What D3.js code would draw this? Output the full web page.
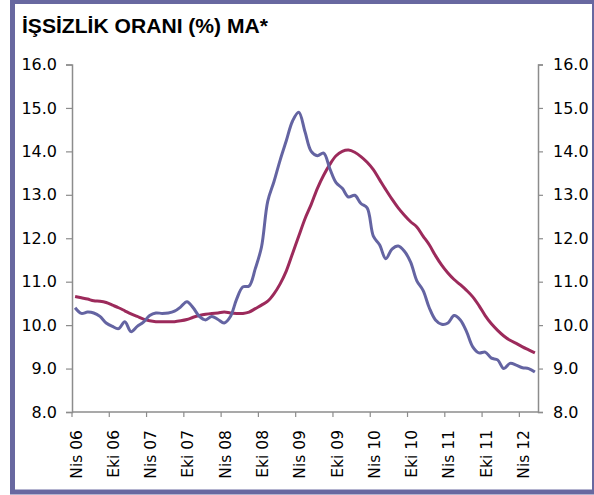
<!DOCTYPE html>
<html>
<head>
<meta charset="utf-8">
<script src="https://cdn.jsdelivr.net/npm/d3@7"></script>
<style>
  body { margin: 0; background: #fff; }
  svg { display: block; }
</style>
</head>
<body>
<svg id="chart" width="594" height="495"></svg>
<script>
const title = "İŞSİZLİK ORANI (%) MA*";
const monthNames = ["Oca","Şub","Mar","Nis","May","Haz","Tem","Ağu","Eyl","Eki","Kas","Ara"];
// Monthly categories from Nis 06 to Haz 12
const categories = [];
for (let i = 0; i < 75; i++) {
  const m = (3 + i) % 12, yr = 6 + Math.floor((3 + i) / 12);
  categories.push(monthNames[m] + " " + String(yr).padStart(2, "0"));
}
const tickLabels = ["Nis 06","Eki 06","Nis 07","Eki 07","Nis 08","Eki 08","Nis 09","Eki 09","Nis 10","Eki 10","Nis 11","Eki 11","Nis 12"];
const yTicks = [8, 9, 10, 11, 12, 13, 14, 15, 16];

const unemployment = [
  10.40, 10.27, 10.30, 10.28, 10.20, 10.05, 9.97, 9.92, 10.08, 9.85,
  9.97, 10.07, 10.22, 10.28, 10.27, 10.28, 10.32, 10.42, 10.54, 10.40,
  10.20, 10.12, 10.20, 10.13, 10.05, 10.20, 10.60, 10.88, 10.90, 11.30,
  11.80, 12.85, 13.30, 13.80, 14.25, 14.70, 14.90, 14.45, 14.00, 13.90,
  13.96, 13.60, 13.28, 13.15, 12.95, 12.99, 12.80, 12.70, 12.05, 11.85,
  11.53, 11.75, 11.82, 11.70, 11.45, 11.02, 10.80, 10.40, 10.12, 10.02,
  10.05, 10.22, 10.12, 9.85, 9.50, 9.36, 9.38, 9.24, 9.20, 9.00,
  9.12, 9.08, 9.02, 9.00, 8.92
];
const movingAvg = [
  10.66, 10.63, 10.60, 10.56, 10.55, 10.52, 10.46, 10.40, 10.33, 10.26,
  10.20, 10.14, 10.10, 10.08, 10.08, 10.08, 10.08, 10.10, 10.13, 10.18,
  10.22, 10.25, 10.27, 10.28, 10.30, 10.28, 10.27, 10.27, 10.30, 10.38,
  10.46, 10.55, 10.72, 10.95, 11.25, 11.65, 12.05, 12.45, 12.78, 13.15,
  13.45, 13.70, 13.90, 14.00, 14.03, 13.98, 13.88, 13.75, 13.58, 13.35,
  13.12, 12.90, 12.70, 12.53, 12.38, 12.26, 12.05, 11.85, 11.60, 11.38,
  11.20, 11.05, 10.93, 10.80, 10.65, 10.45, 10.22, 10.03, 9.88, 9.75,
  9.65, 9.58, 9.50, 9.43, 9.36
];

(function () {
  const svg = d3.select("#chart");
  const W = 594, H = 495;
  const pLeft = 72, pRight = 538, pTop = 64.5, pBottom = 412;
  const axisColor = "#8c8c8c";
  const font = "DejaVu Sans, Verdana, sans-serif";

  svg.append("rect").attr("width", W).attr("height", H).attr("fill", "#fff");

  const x = d3.scaleBand().domain(categories).range([pLeft, pRight]).padding(0);
  const y = d3.scaleLinear().domain([8, 16]).range([pBottom, pTop]);
  const cx = d => x(d) + x.bandwidth() / 2;

  // Title
  svg.append("text")
    .attr("x", 22).attr("y", 33)
    .attr("font-family", "Liberation Sans, Arial, sans-serif")
    .attr("font-weight", "bold")
    .attr("font-size", 19.5)
    .attr("textLength", 246)
    .attr("lengthAdjust", "spacingAndGlyphs")
    .attr("fill", "#000")
    .text(title);

  const yLeft = d3.axisLeft(y).tickValues(yTicks).tickFormat(d3.format(".1f")).tickSize(6).tickPadding(9);
  const gL = svg.append("g").attr("transform", `translate(${pLeft},0)`).call(yLeft);
  const yRight = d3.axisRight(y).tickValues(yTicks).tickFormat(d3.format(".1f")).tickSize(5).tickPadding(10);
  const gR = svg.append("g").attr("transform", `translate(${pRight},0)`).call(yRight);

  [gL, gR].forEach(g => {
    g.select(".domain").attr("stroke", axisColor).attr("stroke-width", 1.5);
    g.selectAll(".tick line").attr("stroke", axisColor).attr("stroke-width", 1.2);
    g.selectAll(".tick text").attr("font-family", font).attr("font-size", 16).attr("fill", "#000");
  });

  // X axis
  svg.append("line")
    .attr("x1", pLeft).attr("x2", pRight).attr("y1", pBottom).attr("y2", pBottom)
    .attr("stroke", axisColor).attr("stroke-width", 1.5);

  const tickIdx = tickLabels.map(l => categories.indexOf(l));
  svg.append("g").selectAll("line").data(tickIdx).join("line")
    .attr("x1", i => x(categories[i])).attr("x2", i => x(categories[i]))
    .attr("y1", pBottom).attr("y2", pBottom + 5)
    .attr("stroke", axisColor).attr("stroke-width", 1.2);

  svg.append("g").selectAll("text").data(tickLabels).join("text")
    .attr("transform", d => `translate(${cx(d) + 1},${pBottom + 18}) rotate(-90)`)
    .attr("text-anchor", "end")
    .attr("dy", "0.35em")
    .attr("font-family", font).attr("font-size", 15.5).attr("fill", "#000")
    .text(d => d);

  const line = d3.line()
    .x((d, i) => cx(categories[i]))
    .y(d => y(d))
    .curve(d3.curveCatmullRom.alpha(0.5));

  svg.append("path").datum(movingAvg)
    .attr("d", line).attr("fill", "none")
    .attr("stroke", "#9c2a5b").attr("stroke-width", 3).attr("stroke-linejoin", "round");

  svg.append("path").datum(unemployment)
    .attr("d", line).attr("fill", "none")
    .attr("stroke", "#6464a2").attr("stroke-width", 3).attr("stroke-linejoin", "round");

  // Outer frame
  svg.append("rect")
    .attr("x", 12.5).attr("y", 1.5).attr("width", 582).attr("height", 490.5)
    .attr("fill", "none").attr("stroke", "#6868a0").attr("stroke-width", 5);
})();
</script>
</body>
</html>
